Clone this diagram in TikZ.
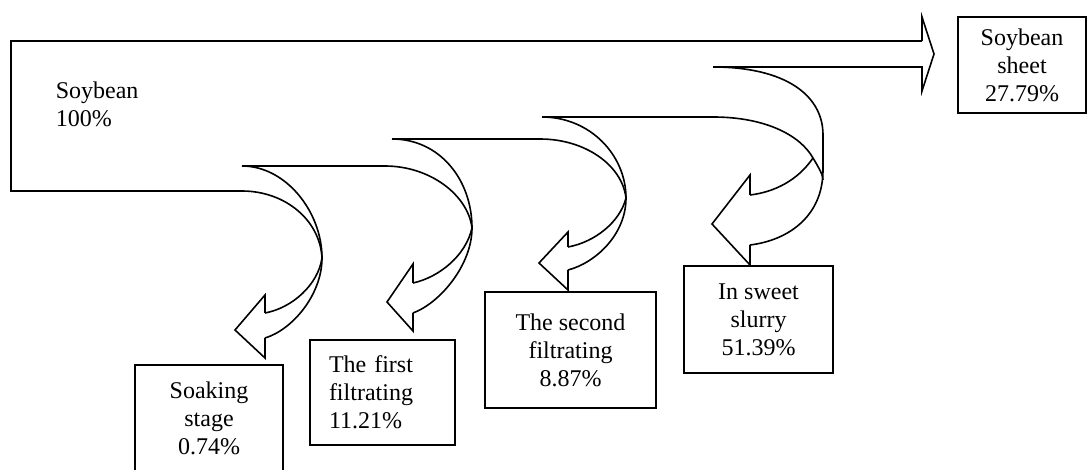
\documentclass[tikz,border=0pt]{standalone}
\usepackage{fontspec}
\setmainfont{Liberation Serif}
\usepackage{tikz}
\usetikzlibrary{positioning}

\begin{document}
\begin{tikzpicture}[
    x=0.5pt, y=-0.5pt,
    line width=0.8pt, line join=miter,
    stagebox/.style={draw, align=center, inner sep=0pt,
                     font=\fontsize{12}{14}\selectfont}
]
    \useasboundingbox (0,0) rectangle (1087,470);

    \node[anchor=west, align=left, inner sep=0pt,
          font=\fontsize{12}{14}\selectfont] (Bean) at (55,104) {Soybean\\100\%};
    \node[stagebox, minimum width=74pt, minimum height=53.5pt] (Soak) at (209,418.5)
        {Soaking\\stage\\0.74\%};
    \node[stagebox, minimum width=72.5pt, minimum height=52.5pt, align=left,
          text width=53.5pt, inner xsep=9.5pt] (F1) at (382.5,392.5)
        {The first\\filtrating\\11.21\%};
    \node[stagebox, minimum width=85.5pt, minimum height=58pt] (F2) at (570.5,350)
        {The second\\filtrating\\8.87\%};
    \node[stagebox, minimum width=74.5pt, minimum height=53.5pt] (Slurry) at (758.5,319.5)
        {In sweet\\slurry\\51.39\%};
    \node[stagebox, minimum width=64pt, minimum height=48pt] (Sheet) at (1022,65)
        {Soybean\\sheet\\27.79\%};

    \draw (922,41) -- (11,41) -- (11,191) -- (242,191);
    \draw (922,41) -- (922,17) -- (934,54) -- (922,91) -- (922,67) -- (713,67);
    \draw (242,166) -- (385,166);
    \draw (392,139) -- (540,139);
    \draw (542,117) -- (713,117);

    \draw (242,166) .. controls (286,166) and (322,212) .. (322,258)
        .. controls (322,295) and (292,330) .. (265,338);
    \draw (242,191) .. controls (285,191) and (320,220) .. (322,258);
    \draw (322,258) .. controls (318,285) and (292,308) .. (265,313);
    \draw (265,313) -- (265,295) -- (235,330) -- (265,358) -- (265,338);

    \draw (392,139) .. controls (440,139) and (472,180) .. (472,228)
        .. controls (472,265) and (440,303) .. (413,313);
    \draw (385,166) .. controls (430,166) and (468,195) .. (472,228);
    \draw (472,228) .. controls (466,255) and (440,277) .. (413,283);
    \draw (413,283) -- (413,264) -- (387,302) -- (413,331) -- (413,313);

    \draw (542,117) .. controls (590,117) and (626,155) .. (626,198)
        .. controls (626,235) and (595,263) .. (568,270);
    \draw (540,139) .. controls (585,139) and (622,165) .. (626,198);
    \draw (626,198) .. controls (620,222) and (595,242) .. (568,247);
    \draw (568,247) -- (568,232) -- (539,263) -- (568,290) -- (568,270);

    \draw (713,67) .. controls (785,67) and (823,95) .. (823,135) -- (823,170)
        .. controls (823,215) and (790,240) .. (750,245);
    \draw (713,117) .. controls (765,117) and (800,135) .. (813,158)
        .. controls (819,168) and (823,175) .. (823,180);
    \draw (813,158) .. controls (798,180) and (775,192) .. (750,195);
    \draw (750,195) -- (750,175) -- (712,224) -- (750,265) -- (750,245);
\end{tikzpicture}
\end{document}
